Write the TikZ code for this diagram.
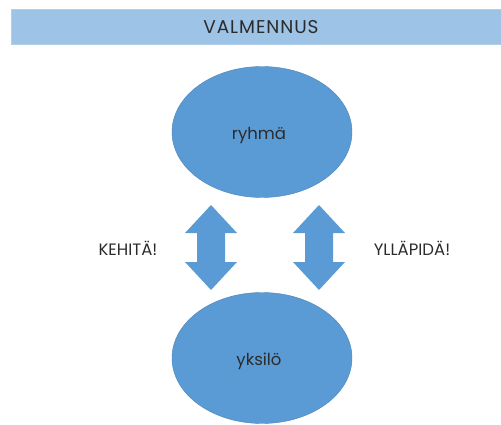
\documentclass[tikz,border=0pt]{standalone}
\usepackage{fontspec}
\setmainfont{Poppins}
\usetikzlibrary{shapes.geometric}
\definecolor{banner}{HTML}{9DC3E6}
\definecolor{bubble}{HTML}{5B9BD5}
\definecolor{ink}{HTML}{2B2B2B}
\tikzset{
  lbl/.style={text=ink, font=\fontsize{16.5}{19}\selectfont, inner sep=0},
  titlelbl/.style={text=ink, font=\fontsize{18.5}{20}\selectfont\addfontfeature{LetterSpace=5}, inner sep=0},
  bubblenode/.style={ellipse, fill=bubble, draw=bubble!85!black, line width=0.4pt,
    minimum width=180pt, minimum height=131pt, inner sep=0},
  blockarrow/.style={fill=bubble}
}
\begin{document}
\begin{tikzpicture}[x=1pt, y=-1pt]
  \useasboundingbox (0,0) rectangle (501,425);
  % title banner
  \fill[banner] (11,9) rectangle (501,44);
  \draw[banner!80!white, line width=0.6pt] (11,9) rectangle (501,44);
  \node[titlelbl] (title) at (261,27) {VALMENNUS};

  % group and individual
  \node[bubblenode] (group) at (262,132) {};
  \node[lbl] (grouplbl) at (259,136) {ryhmä};
  \node[bubblenode] (indiv) at (262,358) {};
  \node[lbl] (indivlbl) at (259,361) {yksilö};

  % two-way block arrows: centre x, tip at 205 and 290
  \foreach \cx in {211,319} {
    \fill[blockarrow] (\cx,205) -- ++(26,28) -- ++(-12,0) -- ++(0,29)
      -- ++(12,0) -- ++(-26,28) -- ++(-26,-28) -- ++(12,0) -- ++(0,-29)
      -- ++(-12,0) -- cycle;
  }

  \node[lbl] (develop) at (128,248) {KEHITÄ!};
  \node[lbl] (maintain) at (412,248) {YLLÄPIDÄ!};
\end{tikzpicture}
\end{document}
